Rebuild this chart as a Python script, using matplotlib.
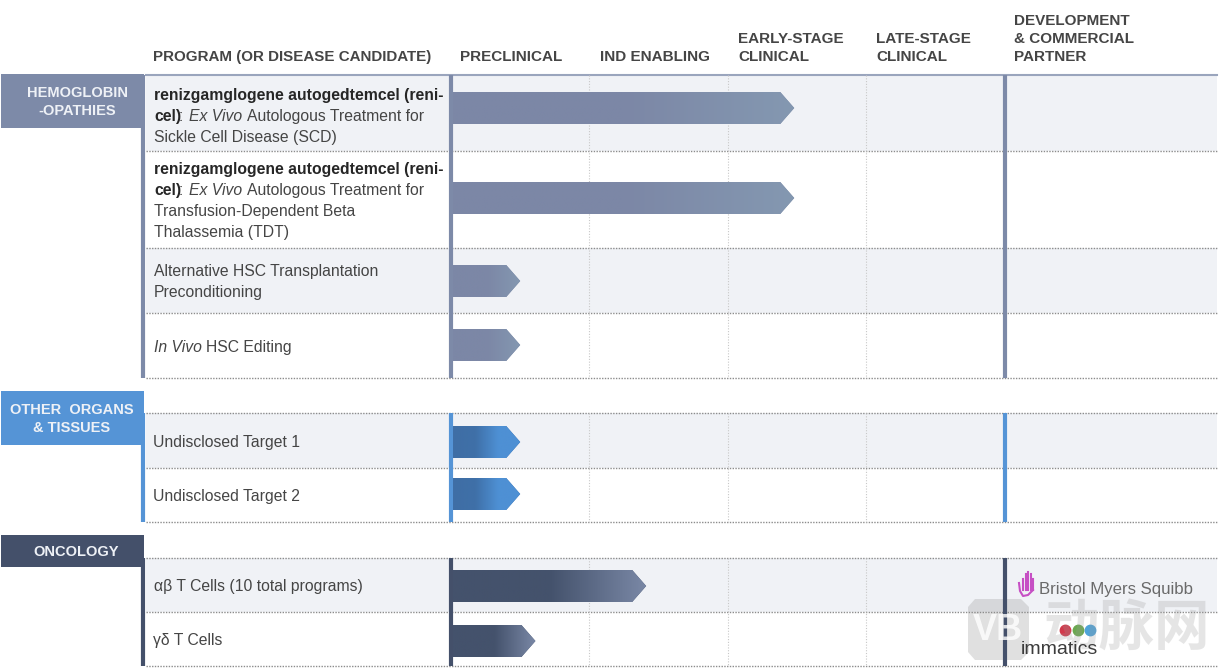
import numpy as np
import matplotlib.pyplot as plt
import pandas as pd
from matplotlib.colors import LinearSegmentedColormap

plt.rcParams['font.family'] = ['Liberation Sans', 'Noto Sans CJK SC']

# stages across the top
stages = ['PRECLINICAL', 'IND ENABLING', 'EARLY-STAGE\nCLINICAL', 'LATE-STAGE\nCLINICAL', 'DEVELOPMENT\n& COMMERCIAL\nPARTNER']
program_header = 'PROGRAM (OR DISEASE CANDIDATE)'

groups = ['HEMOGLOBIN\n-OPATHIES', 'HEMOGLOBIN\n-OPATHIES', 'HEMOGLOBIN\n-OPATHIES', 'HEMOGLOBIN\n-OPATHIES',
          'OTHER  ORGANS\n& TISSUES', 'OTHER  ORGANS\n& TISSUES', 'ONCOLOGY', 'ONCOLOGY']
programs = ['reni-cel SCD', 'reni-cel TDT', 'Alternative HSC Transplantation\nPreconditioning', 'In Vivo HSC Editing',
            'Undisclosed Target 1', 'Undisclosed Target 2', 'αβ T Cells (10 total programs)', 'γδ T Cells']
progress = [2.48, 2.48, 0.50, 0.50, 0.50, 0.50, 1.41, 0.61]  # in stages done

plot_df = pd.DataFrame({
    'group': groups,
    'program': programs,
    'progress': progress
})

# page layout in pixels
stage_x = np.array([451, 589.4, 727.8, 866.2, 1004.6])
row_top = [75, 151, 248, 313, 413, 468, 558, 612]
row_bottom = [151, 248, 313, 378, 468, 522, 612, 666]
bar_top = [92, 182, 265, 329, 426, 478, 570, 625]
shaded = [True, False, True, False, True, False, True, False]
box_top = {'HEMOGLOBIN\n-OPATHIES': 74, 'OTHER  ORGANS\n& TISSUES': 391, 'ONCOLOGY': 535}
box_bottom = {'HEMOGLOBIN\n-OPATHIES': 128, 'OTHER  ORGANS\n& TISSUES': 445, 'ONCOLOGY': 567}
box_text_x = {'HEMOGLOBIN\n-OPATHIES': 77, 'OTHER  ORGANS\n& TISSUES': 72, 'ONCOLOGY': 76}
box_color = {'HEMOGLOBIN\n-OPATHIES': '#7d8aa8', 'OTHER  ORGANS\n& TISSUES': '#5594d6', 'ONCOLOGY': '#44506a'}
bar_colors = {'HEMOGLOBIN\n-OPATHIES': ['#7c87a6', '#7c87a6', '#8498b1'],
              'OTHER  ORGANS\n& TISSUES': ['#3f6ea5', '#3f70a8', '#4e90d4', '#4e90d4'],
              'ONCOLOGY': ['#44526c', '#44526c', '#7a88a6']}
text_color = '#454545'

plt.figure(figsize=(12.22, 6.7))
plt.axes([0, 0, 1, 1])

# row backgrounds and dotted lines
for i in range(len(row_top)):
    if shaded[i]:
        plt.fill([146, 1217, 1217, 146], [row_top[i], row_top[i], row_bottom[i], row_bottom[i]], color='#f0f2f6', lw=0)
    plt.plot([146, 1217], [row_bottom[i], row_bottom[i]], color='#8c8c8c', lw=1, ls=(0, (1, 1)))
plt.plot([146, 1217], [75, 75], color='#9aa5bd', lw=1.5)
plt.plot([146, 1217], [413, 413], color='#8c8c8c', lw=1, ls=(0, (1, 1)))
plt.plot([146, 1217], [558, 558], color='#8c8c8c', lw=1, ls=(0, (1, 1)))

# headers
plt.text(153, 61, program_header, fontsize=10.9, fontweight='bold', color=text_color)
header_x = [460, 600, 738, 876, 1014]
for i in range(len(stages)):
    plt.text(header_x[i], 61, stages[i], fontsize=11, fontweight='bold', color=text_color, va='baseline', linespacing=1.35)

# one block per group
for name, group in plot_df.groupby('group', sort=False):
    top = row_top[group.index[0]]
    bottom = row_bottom[group.index[-1]]
    for x in stage_x[1:4]:
        plt.plot([x, x], [top, bottom], color='#c8c8c8', lw=0.8, ls=(0, (1, 1.5)))
    for x in [143, 451, 1005]:
        plt.plot([x, x], [top, bottom], color=box_color[name], lw=3, solid_capstyle='butt')
    plt.fill([1, 144, 144, 1], [box_top[name], box_top[name], box_bottom[name], box_bottom[name]], color=box_color[name], lw=0)
    plt.text(box_text_x[name], (box_top[name] + box_bottom[name]) / 2 + 1, name, color='#eef1f6', fontsize=10.5, fontweight='bold',
             ha='center', va='center', linespacing=1.4)
    cm = LinearSegmentedColormap.from_list(name, bar_colors[name])
    for i in group.index:
        tip = stage_x[0] + plot_df['progress'][i] * (stage_x[1] - stage_x[0])
        t = bar_top[i]
        h = 32
        left = stage_x[0] + 2
        arrow = plt.fill([left, tip - 14, tip, tip - 14, left], [t, t, t + h / 2, t + h, t + h], color=bar_colors[name][0], lw=0, zorder=3)[0]
        im = plt.imshow(np.linspace(0, 1, 256).reshape(1, -1), extent=[left, tip, t + h, t], aspect='auto', cmap=cm, zorder=4)
        im.set_clip_path(arrow)

# program names, the first two rows mix bold and italic
size = 11.3
for y in [100, 174]:
    plt.text(154, y, 'renizgamglogene autogedtemcel (reni-', fontsize=size, fontweight='bold', color='#262626')
    plt.text(154, y + 21, 'cel)', fontsize=size, fontweight='bold', color='#262626')
    plt.text(179, y + 21, ':', fontsize=size, color=text_color)
    plt.text(189, y + 21, 'Ex Vivo', fontsize=size, fontstyle='italic', color=text_color)
    plt.text(247, y + 21, 'Autologous Treatment for', fontsize=size, color=text_color)
plt.text(154, 142, 'Sickle Cell Disease (SCD)', fontsize=size, color=text_color)
plt.text(154, 216, 'Transfusion-Dependent Beta', fontsize=size, color=text_color)
plt.text(154, 237, 'Thalassemia (TDT)', fontsize=size, color=text_color)
plt.text(154, 276, 'Alternative HSC Transplantation', fontsize=size, color=text_color)
plt.text(154, 297, 'Preconditioning', fontsize=size, color=text_color)
plt.text(154, 352, 'In Vivo', fontsize=size, fontstyle='italic', color=text_color)
plt.text(206, 352, 'HSC Editing', fontsize=size, color=text_color)
plt.text(153, 447, programs[4], fontsize=size, color=text_color)
plt.text(153, 501, programs[5], fontsize=size, color=text_color)
plt.text(154, 591, programs[6], fontsize=size, color=text_color)
plt.text(153, 645, programs[7], fontsize=size, color=text_color)

# partner logos
for x, y0 in zip([1023, 1025.5, 1028, 1030.5, 1033], [579, 574, 572, 574, 579]):
    plt.plot([x, x], [y0, 590], color='#c64fc4', lw=1.5)
plt.plot([1019, 1020, 1023, 1028, 1033], [583, 591, 596, 595, 590], color='#c64fc4', lw=1.5)
plt.text(1039, 594, 'Bristol Myers Squibb', fontsize=12.1, color='#6a6a6a')

# watermark
plt.fill([975, 1021, 1029, 1029, 1021, 975, 968, 968], [599, 599, 607, 652, 660, 660, 652, 607], color='#9a9a9a', alpha=0.3, lw=0)
plt.text(998, 630, 'VB', fontsize=26, fontweight='bold', color='white', ha='center', va='center', alpha=0.8)
plt.text(1127, 632, '动脉网', fontsize=40, fontweight='bold', color='#9a9a9a', alpha=0.25, ha='center', va='center')

plt.text(1021, 654, 'immatics', fontsize=14, color='#3c3c3c')
for x, c in zip([1065, 1078, 1090], ['#d2384a', '#6aa84f', '#4ea3d8']):
    plt.plot([x], [630], 'o', color=c, ms=7.5)

plt.xlim(0, 1222)
plt.ylim(670, 0)
plt.axis('off')
plt.savefig('out.png', dpi=100)
